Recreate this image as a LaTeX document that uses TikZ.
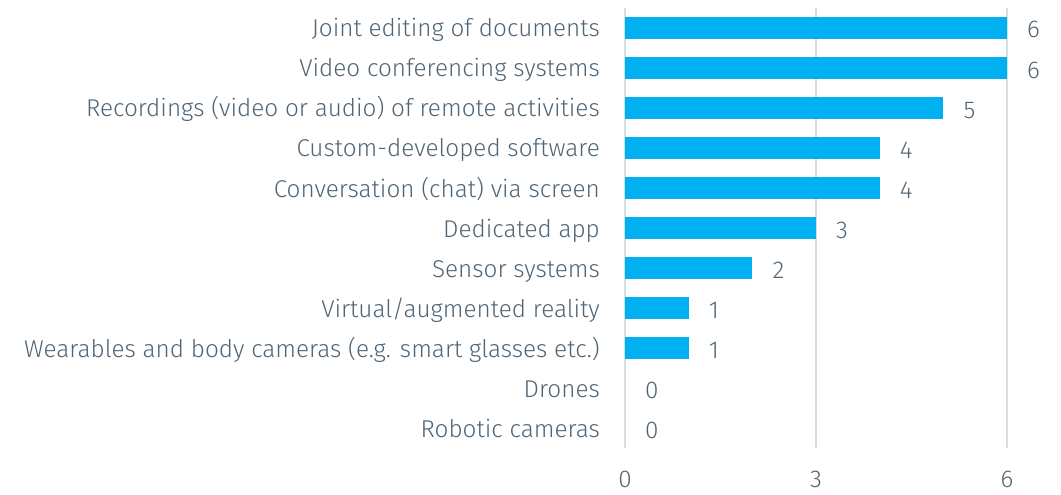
\documentclass[tikz,border=0pt]{standalone}
\usepackage{fontspec}
\setmainfont{Fira Sans}[UprightFont=* Light]
\definecolor{txt}{HTML}{4F6575}
\definecolor{barc}{HTML}{00B0F0}
\definecolor{grid}{HTML}{D5DEE3}
\begin{document}
\begin{tikzpicture}[x=1pt,y=-1pt,
  lbl/.style={anchor=base east,inner sep=0pt,text=txt,font=\fontsize{24.3}{26}\selectfont},
  val/.style={anchor=base west,inner sep=0pt,text=txt,font=\fontsize{24.3}{26}\selectfont},
  tick/.style={anchor=base,inner sep=0pt,text=txt,font=\fontsize{24.3}{26}\selectfont},
  gridl/.style={draw=grid,line width=2pt},
  barr/.style={fill=barc,draw=none}]
\useasboundingbox (0,0) rectangle (1061,495);
\foreach \g/\t in {0/0,3/3,6/6}{
  \coordinate (gt\g) at ({625+63.667*\g},8);
  \coordinate (gb\g) at ({625+63.667*\g},448);
  \draw[gridl] (gt\g) -- (gb\g);
  \node[tick] (tk\g) at ({625+63.667*\g},487) {\t};
}
\foreach \i/\v/\name in {
  0/6/{Joint editing of documents},
  1/6/{Video conferencing systems},
  2/5/{Recordings (video or audio) of remote activities},
  3/4/{Custom-developed software },
  4/4/{Conversation (chat) via screen},
  5/3/{Dedicated app},
  6/2/{Sensor systems},
  7/1/{Virtual/augmented reality },
  8/1/{Wearables and body cameras (e.g. smart glasses etc.)},
  9/0/{Drones},
  10/0/{Robotic cameras}}{
  \pgfmathsetmacro{\yc}{28+40*\i}
  \node[lbl] (l\i) at (600,\yc+9) {\name};
  \ifnum\v>0
    \path[barr] (625,\yc-11) rectangle ({625+63.667*\v},\yc+11);
  \fi
  \node[val] (v\i) at ({645+63.667*\v},\yc+10) {\v};
}
\end{tikzpicture}
\end{document}
